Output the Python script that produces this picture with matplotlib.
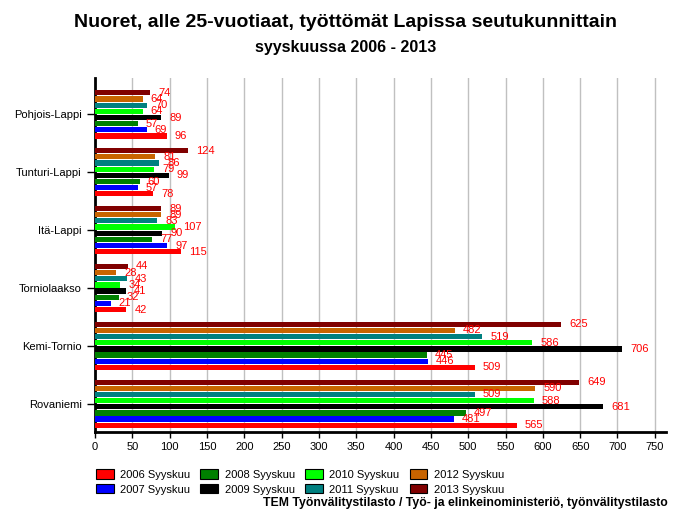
import matplotlib.pyplot as plt
from matplotlib.patches import Patch
import numpy as np

plt.rcParams['font.family'] = ['Liberation Sans', 'DejaVu Sans']

regions = ['Pohjois-Lappi', 'Tunturi-Lappi', 'Itä-Lappi', 'Torniolaakso', 'Kemi-Tornio', 'Rovaniemi']
years = ['2006 Syyskuu', '2007 Syyskuu', '2008 Syyskuu', '2009 Syyskuu',
         '2010 Syyskuu', '2011 Syyskuu', '2012 Syyskuu', '2013 Syyskuu']
colors = ['#ff0000', '#0000ff', '#008000', '#000000', '#00ff00', '#008080', '#c86400', '#800000']

v2006 = [96, 78, 115, 42, 509, 565]
v2007 = [69, 57, 97, 21, 446, 481]
v2008 = [57, 60, 77, 32, 445, 497]
v2009 = [89, 99, 90, 41, 706, 681]
v2010 = [64, 79, 107, 34, 586, 588]
v2011 = [70, 86, 83, 43, 519, 509]
v2012 = [64, 81, 89, 28, 482, 590]
v2013 = [74, 124, 89, 44, 625, 649]
series = [v2006, v2007, v2008, v2009, v2010, v2011, v2012, v2013]

fig = plt.figure(figsize=(6.92, 5.19), dpi=100)
ax = fig.add_axes([0.1373, 0.1676, 0.8251, 0.6821])

step = 0.1065
barh = 0.09
pos = np.arange(len(regions))
for j, vals in enumerate(series):
    y = pos + (3.5 - j) * step
    ax.barh(y, vals, height=barh, color=colors[j], zorder=3)
    for yy, v in zip(y, vals):
        ax.annotate(str(v), (v, yy), xytext=(5.8, 0), textcoords='offset points',
                    color='red', fontsize=8, va='center', ha='left', zorder=4)

ax.set_xlim(0, 765)
ax.set_ylim(5.49, -0.63)
ax.set_xticks(np.arange(0, 751, 50))
ax.set_yticks(pos)
ax.set_yticklabels(regions, fontsize=8)
ax.tick_params(axis='x', labelsize=8, length=4, width=1)
ax.tick_params(axis='y', length=6, width=1)
ax.grid(axis='x', color='#c0c0c0', linewidth=1, zorder=0)
for s in ['top', 'right']:
    ax.spines[s].set_visible(False)
ax.spines['left'].set_linewidth(2)
ax.spines['bottom'].set_linewidth(2)

fig.text(0.5, 0.957, 'Nuoret, alle 25-vuotiaat, työttömät Lapissa seutukunnittain',
         ha='center', va='center', fontsize=14, fontweight='bold')
fig.text(0.5, 0.909, 'syyskuussa 2006 - 2013', ha='center', va='center',
         fontsize=11.5, fontweight='bold')

handles = [Patch(facecolor=c, edgecolor='black', linewidth=0.8) for c in colors]
fig.legend(handles, years, ncol=4, loc='upper left',
           bbox_to_anchor=(0.124, 0.115), frameon=False, fontsize=8,
           handlelength=1.6, handleheight=0.9, columnspacing=0.9, labelspacing=0.4,
           handletextpad=0.6)

fig.text(0.965, 0.031, 'TEM Työnvälitystilasto / Työ- ja elinkeinoministeriö, työnvälitystilasto',
         ha='right', va='center', fontsize=8.8, fontweight='bold')

fig.savefig('out.png', dpi=100)
